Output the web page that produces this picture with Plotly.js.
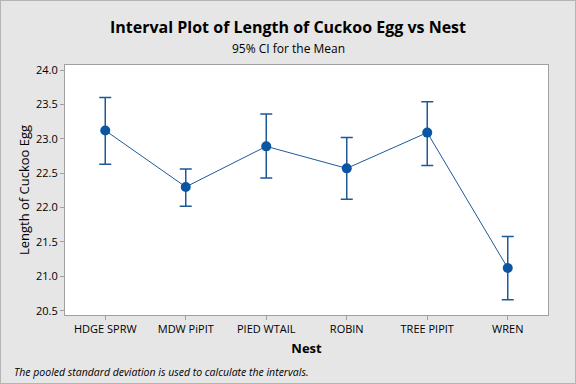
<!DOCTYPE html>
<html>
<head>
<meta charset="utf-8">
<script src="https://cdn.plot.ly/plotly-3.0.1.min.js"></script>
<style>
html,body{margin:0;padding:0;background:#e6e6e6;}
#wrap{position:relative;width:576px;height:384px;}
#chart{width:576px;height:384px;}
#frame{position:absolute;left:0;top:0;width:574px;height:382px;border:1px solid #b4b4b4;pointer-events:none;}
</style>
</head>
<body>
<div id="wrap"><div id="chart"></div><div id="frame"></div></div>
<script>
const nests = ["HDGE SPRW", "MDW PiPIT", "PIED WTAIL", "ROBIN", "TREE PIPIT", "WREN"];
const means = [23.12, 22.30, 22.89, 22.57, 23.09, 21.12];
const upper = [23.60, 22.56, 23.36, 23.02, 23.54, 21.58];
const lower = [22.63, 22.02, 22.43, 22.12, 22.61, 20.66];
const yTicks = [20.5, 21.0, 21.5, 22.0, 22.5, 23.0, 23.5, 24.0];

const plus = means.map((m, i) => upper[i] - m);
const minus = means.map((m, i) => m - lower[i]);

const font = "Open Sans, DejaVu Sans, sans-serif";

const trace = {
  type: "scatter",
  mode: "lines+markers",
  x: nests,
  y: means,
  line: {color: "#1d5a97", width: 1},
  marker: {color: "#0b55a3", size: 10},
  error_y: {type: "data", symmetric: false, array: plus, arrayminus: minus,
            color: "#1d5a97", thickness: 1.5, width: 6},
  hoverinfo: "skip"
};

const layout = {
  width: 576, height: 384,
  paper_bgcolor: "#e6e6e6",
  plot_bgcolor: "#ffffff",
  margin: {l: 65, r: 28, t: 65, b: 69},
  showlegend: false,
  font: {family: font, color: "#000"},
  xaxis: {
    type: "category", range: [-0.5, 5.5],
    showgrid: false, zeroline: false,
    showline: true, mirror: true, linecolor: "#a0a0a0", linewidth: 1,
    ticks: "outside", ticklen: 4, tickcolor: "#a0a0a0",
    tickfont: {size: 11, family: font, color: "#000"},
    title: {text: "<b>Nest</b>", font: {size: 13, family: font}, standoff: 8}
  },
  yaxis: {
    range: [20.4375, 24.073],
    tickvals: yTicks, ticktext: yTicks.map(v => v.toFixed(1)),
    showgrid: false, zeroline: false,
    showline: true, mirror: true, linecolor: "#a0a0a0", linewidth: 1,
    ticks: "outside", ticklen: 4, tickcolor: "#a0a0a0",
    tickfont: {size: 11, family: font, color: "#000"},
    title: {text: "Length of Cuckoo Egg", font: {size: 13, family: font}, standoff: 3}
  },
  annotations: [
    {text: "<b>Interval Plot of Length of Cuckoo Egg vs Nest</b>", xref: "paper", yref: "paper",
     x: (288 - 65) / 483, y: 1 + (65 - 27) / 250, xanchor: "center", yanchor: "middle",
     showarrow: false, font: {size: 16, family: font}},
    {text: "95% CI for the Mean", xref: "paper", yref: "paper",
     x: (288 - 65) / 483, y: 1 + (65 - 49) / 250, xanchor: "center", yanchor: "middle",
     showarrow: false, font: {size: 12, family: font}},
    {text: "<i>The pooled standard deviation is used to calculate the intervals.</i>", xref: "paper", yref: "paper",
     x: (12 - 65) / 483, y: -(372 - 315) / 250, xanchor: "left", yanchor: "middle",
     showarrow: false, font: {size: 10.5, family: font}}
  ]
};

Plotly.newPlot("chart", [trace], layout, {staticPlot: true, displayModeBar: false});
</script>
</body>
</html>
